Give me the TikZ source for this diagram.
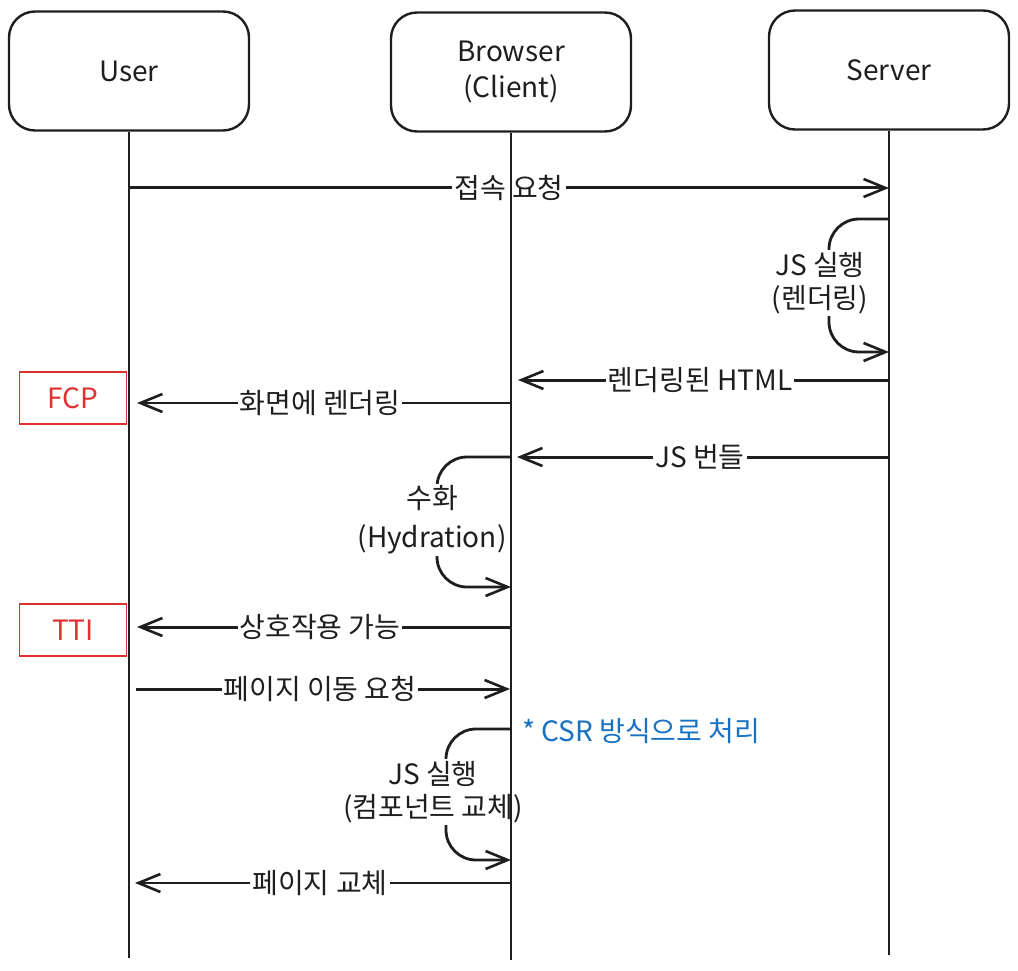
\documentclass[tikz,border=0pt]{standalone}
\usepackage{fontspec}
\setmainfont{Noto Sans CJK KR}
\usetikzlibrary{arrows.meta}
\definecolor{exred}{HTML}{E03131}
\definecolor{exblue}{HTML}{1971C2}
\definecolor{ink}{HTML}{1E1E1E}
\begin{document}
\begin{tikzpicture}[x=1pt,y=-1pt,
  actor/.style={draw=ink, line width=2.4pt, rounded corners=26pt, minimum width=240pt, minimum height=119pt, align=center, font=\fontsize{28}{36}\selectfont, text=ink},
  life/.style={draw=ink, line width=2.4pt},
  tip/.style={-{Straight Barb[length=22pt,width=18pt,line width=2.6pt]}},
  msg/.style={draw=ink, line width=3pt, tip},
  thinmsg/.style={draw=ink, line width=2.2pt, tip},
  lbl/.style={fill=white, inner sep=2pt, text=ink, font=\fontsize{28}{32}\selectfont},
  looplbl/.style={fill=white, inner sep=2pt, text=ink, align=center, font=\fontsize{28}{33}\selectfont},
  selfloop/.style={draw=ink, line width=2.8pt, rounded corners=30pt, tip},
  redmark/.style={draw=exred, line width=1.8pt, minimum width=107pt, minimum height=52pt, text=exred, font=\fontsize{28}{30}\selectfont},
  csrnote/.style={text=exblue, anchor=west, inner sep=0pt, font=\fontsize{28}{32}\selectfont}
]
\useasboundingbox (0,0) rectangle (1018,971);

% actors
\node[actor] (user) at (129,71) {User};
\node[actor] (browser) at (511,72) {Browser\\(Client)};
\node[actor] (server) at (889,70) {Server};

\coordinate (uend) at (user.south |- 0,958);
\coordinate (bend) at (browser.south |- 0,960);
\coordinate (send) at (server.south |- 0,955);

% messages
\draw[msg] (user.south |- 0,188) -- node[lbl]{접속 요청} (server.south |- 0,188);

\draw[selfloop] (server.south |- 0,219) -| (829,290) |- (server.south |- 0,352);
\node[looplbl] (l1) at (820,283) {JS 실행\\(렌더링)};

\draw[msg, shorten >=7pt] (server.south |- 0,380) -- node[lbl]{렌더링된 HTML} (browser.south |- 0,380);
\draw[thinmsg, shorten >=8pt] (browser.south |- 0,403) -- node[lbl]{화면에 렌더링} (user.south |- 0,403);
\draw[msg, shorten >=6pt] (server.south |- 0,457) -- node[lbl]{JS 번들} (browser.south |- 0,457);

\draw[selfloop] (browser.south |- 0,457) -| (437,520) |- (browser.south |- 0,587);
\node[looplbl, font=\fontsize{28}{39}\selectfont] (l2) at (432,520) {수화\\(Hydration)};

\draw[msg, shorten >=8pt] (browser.south |- 0,627) -- node[lbl]{상호작용 가능} (user.south |- 0,627);
\draw[msg, shorten <=7pt, shorten >=1pt] (user.south |- 0,689) -- node[lbl]{페이지 이동 요청} (browser.south |- 0,689);

\draw[selfloop] (browser.south |- 0,729) -| (446,795) |- (browser.south |- 0,860);
\node[looplbl] (l3) at (433,792) {JS 실행\\(컴포넌트 교체)};

\draw[thinmsg, shorten >=6pt] (browser.south |- 0,883) -- node[lbl]{페이지 교체} (user.south |- 0,883);

% lifelines
\draw[life] (user.south) -- (uend);
\draw[life] (browser.south) -- (bend);
\draw[life] (server.south) -- (send);

% marks
\node[redmark] (fcp) at (73,398) {FCP};
\node[redmark] (tti) at (73,630) {TTI};
\node[csrnote] (csr) at (522,731) {* CSR 방식으로 처리};
\end{tikzpicture}
\end{document}
